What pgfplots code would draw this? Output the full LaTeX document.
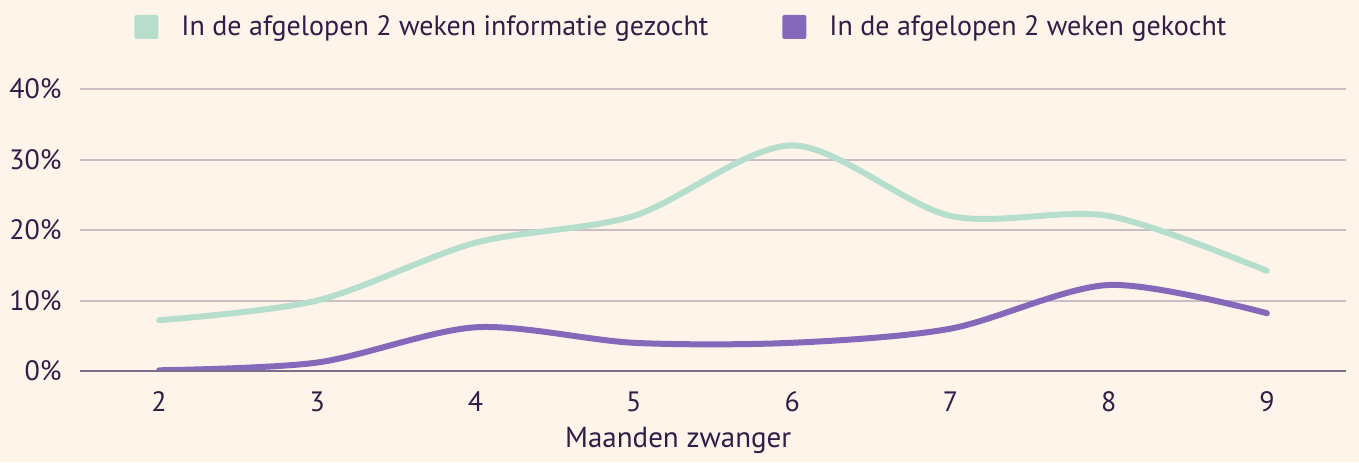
\documentclass[border=0pt]{standalone}
\usepackage{fontspec}
\setmainfont{PT Sans}
\usepackage{pgfplots}
\pgfplotsset{compat=1.18}

\definecolor{bg}{HTML}{FFF4EA}
\definecolor{mint}{HTML}{B6DECC}
\definecolor{paars}{HTML}{8668BA}
\definecolor{ink}{HTML}{2D1F47}
\definecolor{gridc}{HTML}{CABEC3}
\definecolor{base}{HTML}{7F6D88}

\begin{document}
\begin{tikzpicture}
\path[use as bounding box, fill=bg] (0,0) rectangle (679.5pt,231pt);
\begin{axis}[
    at={(40pt,45.5pt)}, anchor=south west,
    scale only axis,
    width=633pt, height=141pt,
    xmin=1.5, xmax=9.5,
    ymin=0, ymax=40,
    xtick={2,...,9},
    ytick={0,10,20,30,40},
    yticklabel={\pgfmathprintnumber{\tick}\%},
    /pgf/number format/assume math mode=true,
    axis line style={draw=none},
    major tick length=0pt,
    ymajorgrids,
    grid style={gridc, line width=1pt},
    tick label style={font=\fontsize{14}{16}\selectfont, text=ink},
    yticklabel style={inner sep=0pt, anchor=east, xshift=-9pt},
    xticklabel style={inner sep=0pt, anchor=north, yshift=-10pt},
    xlabel={Maanden zwanger},
    xlabel style={font=\fontsize{14.5}{17}\selectfont, text=ink, inner sep=0pt, anchor=base},
    every axis x label/.append style={at={(axis description cs:0.4725,0)}, yshift=-38pt},
    legend columns=2,
    legend style={at={(axis description cs:0.0427,1.22)}, anchor=west,
        draw=none, fill=none, inner sep=0pt,
        font=\fontsize{14}{17}\selectfont, text=ink,
        /tikz/every odd column/.append style={column sep=11.5pt},
        /tikz/every even column/.append style={column sep=37pt},
        nodes={inner sep=0pt}},
    legend image code/.code={\fill[#1, draw=none, rounded corners=1pt] (0pt,-6pt) rectangle (12pt,6pt);},
]
\addplot[mint, line width=3pt, smooth, tension=0.5, line cap=round] coordinates {
    (2,7.2) (3,10) (4,18.2) (5,22) (6,32) (7,22) (8,22) (9,14.2)};
\addlegendentry{In de afgelopen 2 weken informatie gezocht}
\addplot[paars, line width=3pt, smooth, tension=0.5, line cap=round] coordinates {
    (2,0.1) (3,1.2) (4,6.2) (5,4) (6,4) (7,6) (8,12.2) (9,8.2)};
\addlegendentry{In de afgelopen 2 weken gekocht}
\draw[base, line width=1pt] (axis cs:1.5,0) -- (axis cs:9.5,0);
\end{axis}
\end{tikzpicture}
\end{document}
